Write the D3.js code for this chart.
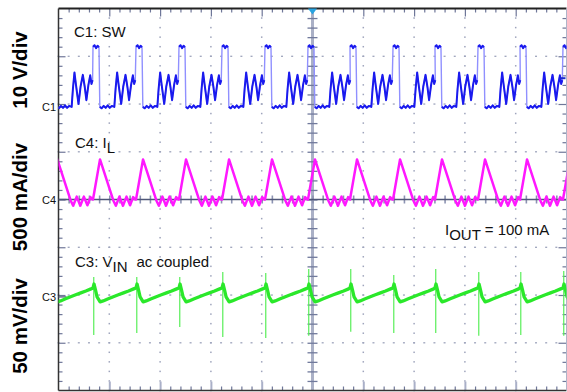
<!DOCTYPE html>
<html><head><meta charset="utf-8">
<script src="https://cdn.jsdelivr.net/npm/d3@7"></script>
<style>
html,body{margin:0;padding:0;background:#fff;}
svg{display:block;}
text{font-family:"Liberation Sans",Arial,sans-serif;}
</style></head>
<body>
<script>
// ---------- data (time in divisions) ----------
// rising edges of the switch node (start of each high-side on time)
const edgeTimes = [-0.161, 0.679, 1.526, 2.372, 3.219, 4.065, 4.911, 5.738, 6.585, 7.411, 8.258, 9.085, 9.931];

// C1: SW (volts), one switching cycle relative to the rising edge
const swT = [0.000, 0.030, 0.060, 0.090, 0.118, 0.134, 0.170, 0.210, 0.250, 0.290, 0.330, 0.370, 0.420, 0.445, 0.475, 0.505, 0.555, 0.595, 0.640, 0.680, 0.710, 0.750, 0.785, 0.810, 0.832];
const swV = [12.6, 12.9, 12.3, 12.8, 12.5, 0.0, -0.3, 0.2, -0.2, 0.3, -0.2, 0.2, 0.0, 3.8, 7.2, 4.6, 0.6, 4.2, 6.7, 4.0, 1.4, 4.6, 6.6, 4.8, 5.6];

// C4: I_L (mA), one cycle
const ilT = [0.000, 0.138, 0.400, 0.450, 0.520, 0.590, 0.660, 0.730, 0.790, 0.830];
const ilV = [0, 420, -10, -65, 30, -65, 30, -60, 25, 0];

// C3: V_IN ac coupled (mV), one cycle
const vinT = [0.000, 0.020, 0.050, 0.080, 0.140, 0.200, 0.300, 0.400, 0.500, 0.600, 0.700, 0.800];
const vinV = [9.4, 13.5, 7.0, 0.0, -5.2, -4.2, -2.0, 0.2, 2.2, 4.2, 6.2, 8.4];
// V_IN spikes at each edge (mV)
const vinSpikeHigh = [22, 20.9, 20.9, 20.9, 26.2, 25.1, 29.3, 29.3, 23.0, 29.3, 26.2, 26.2, 27.2];
const vinSpikeLow  = [-40, -39.8, -37.7, -31.4, -41.9, -42.9, -40.8, -36.6, -37.7, -37.7, -40.8, -39.8, -40.8];
const vinSpikeDt = 0.015;

// channel settings: scale per division and offset (divisions from centre)
const channels = ["C1", "C4", "C3"];
const chScale  = [10, 500, 50];
const chOffset = [1.94, 0, -2.04];
const sideLabels = ["10 V/div", "500 mA/div", "50 mV/div"];

// ---------- layout ----------
const W = 567, H = 392;
const L = 58.5, R = 566.5, T = 8.5, B = 390.5;
const xS = d3.scaleLinear().domain([0, 10]).range([L, R]);
const yS = d3.scaleLinear().domain([-4, 4]).range([B, T]);
const chY = (ci, v) => yS(chOffset[ci] + v / chScale[ci]);

const svg = d3.select("body").append("svg").attr("width", W).attr("height", H);
svg.append("defs").append("clipPath").attr("id", "plot")
  .append("rect").attr("x", L).attr("y", T).attr("width", R - L).attr("height", B - T);

// ---------- grid ----------
const gridCol = "#9ea4bc";
const majorX = d3.range(1, 10).filter(d => d !== 5);
const majorY = d3.range(-3, 4).filter(d => d !== 0);
const minorX = d3.range(0, 50).map(i => i * 0.2);
const minorY = d3.range(0, 40).map(i => -4 + i * 0.2);
const g = svg.append("g");
majorX.forEach(mx => {
  minorY.forEach(my => g.append("rect").attr("x", xS(mx) - 0.75).attr("y", yS(my) - 0.75)
    .attr("width", 1.5).attr("height", 1.5).attr("fill", gridCol));
});
majorY.forEach(my => {
  minorX.forEach(mx => g.append("rect").attr("x", xS(mx) - 1).attr("y", yS(my) - 0.6)
    .attr("width", 2).attr("height", 1.3).attr("fill", gridCol));
});

// frame ticks via d3 axes
const tickCol = "#6f7799";
function styleAxis(sel) {
  sel.select(".domain").remove();
  sel.selectAll("line").attr("stroke", tickCol).attr("stroke-width", 1.2);
  sel.selectAll("text").remove();
}
const minorXt = minorX.filter((d, i) => i % 5 !== 0);
const minorYt = minorY.filter((d, i) => i % 5 !== 0);
svg.append("g").attr("transform", `translate(0,${T})`)
  .call(d3.axisTop(xS).tickValues(minorXt).tickSizeInner(-4).tickSizeOuter(0)).call(styleAxis);
svg.append("g").attr("transform", `translate(0,${T})`)
  .call(d3.axisTop(xS).tickValues(d3.range(1, 10)).tickSizeInner(-8).tickSizeOuter(0)).call(styleAxis);
svg.append("g").attr("transform", `translate(0,${B})`)
  .call(d3.axisBottom(xS).tickValues(minorXt).tickSizeInner(-4).tickSizeOuter(0)).call(styleAxis);
svg.append("g").attr("transform", `translate(0,${B})`)
  .call(d3.axisBottom(xS).tickValues(d3.range(1, 10)).tickSizeInner(-9).tickSizeOuter(0)).call(styleAxis)
  .selectAll("line").attr("stroke", "#aab0c8").attr("stroke-width", 2);
svg.append("g").attr("transform", `translate(${L},0)`)
  .call(d3.axisLeft(yS).tickValues(minorYt).tickSizeInner(-4).tickSizeOuter(0)).call(styleAxis);
svg.append("g").attr("transform", `translate(${L},0)`)
  .call(d3.axisLeft(yS).tickValues(d3.range(-3, 4)).tickSizeInner(-7).tickSizeOuter(0)).call(styleAxis);
svg.append("g").attr("transform", `translate(${R},0)`)
  .call(d3.axisRight(yS).tickValues(minorYt).tickSizeInner(-4).tickSizeOuter(0)).call(styleAxis);
svg.append("g").attr("transform", `translate(${R},0)`)
  .call(d3.axisRight(yS).tickValues(d3.range(-3, 4)).tickSizeInner(-8).tickSizeOuter(0)).call(styleAxis);

// centre axes
svg.append("line").attr("x1", xS(5)).attr("x2", xS(5)).attr("y1", T).attr("y2", B)
  .attr("stroke", "#aab0c6").attr("stroke-width", 3);
svg.append("g").attr("transform", `translate(${xS(5)},0)`)
  .call(d3.axisRight(yS).tickValues(minorY.filter(d => d > -4)).tickSizeInner(5).tickSizeOuter(0)).call(styleAxis)
  .selectAll("line").attr("x1", -5).attr("stroke", "#717a9c").attr("stroke-width", 1.3);
svg.append("g").attr("transform", `translate(0,${yS(0)})`)
  .call(d3.axisBottom(xS).tickValues(minorX.filter(d => d > 0)).tickSizeInner(4).tickSizeOuter(0)).call(styleAxis)
  .selectAll("line").attr("y1", -4).attr("stroke", "#8c93b2").attr("stroke-width", 1.6);
svg.append("line").attr("x1", L).attr("x2", R).attr("y1", yS(0)).attr("y2", yS(0))
  .attr("stroke", "#4f5778").attr("stroke-width", 1.3);

// frame
svg.append("line").attr("x1", L).attr("x2", R).attr("y1", T).attr("y2", T).attr("stroke", "#222").attr("stroke-width", 1.8);
svg.append("line").attr("x1", L).attr("x2", R).attr("y1", B).attr("y2", B).attr("stroke", "#333").attr("stroke-width", 1.5);
svg.append("line").attr("x1", L).attr("x2", L).attr("y1", T).attr("y2", B).attr("stroke", "#333").attr("stroke-width", 1.5);
svg.append("line").attr("x1", R).attr("x2", R).attr("y1", T).attr("y2", B).attr("stroke", "#b0b4c8").attr("stroke-width", 1);

// channel ground markers
channels.forEach((c, i) => {
  svg.append("line").attr("x1", L).attr("x2", L + 8).attr("y1", chY(i, 0)).attr("y2", chY(i, 0))
    .attr("stroke", "#4f5778").attr("stroke-width", 1.3);
  svg.append("text").attr("x", 56).attr("y", chY(i, 0) + 4).attr("text-anchor", "end")
    .attr("font-size", 11).attr("fill", "#111").text(c);
});

// ---------- traces ----------
function build(tT, tV) {
  const pts = [];
  edgeTimes.forEach(e => tT.forEach((t, j) => pts.push([e + t, tV[j]])));
  return pts;
}
const plot = svg.append("g").attr("clip-path", "url(#plot)");

// SW
const swPts = build(swT, swV).map(p => [xS(p[0]), chY(0, p[1])]);
const line = d3.line();
plot.append("path").attr("d", line(swPts)).attr("fill", "none")
  .attr("stroke", "#9090ff").attr("stroke-width", 1.4);
let runs = [], cur = [swPts[0]];
for (let i = 1; i < swPts.length; i++) {
  const dx = swPts[i][0] - swPts[i - 1][0], dy = swPts[i][1] - swPts[i - 1][1];
  const edge = Math.abs(dy) > 20 && Math.abs(dy) > 8 * Math.abs(dx);
  if (edge) { runs.push(cur); cur = [swPts[i]]; } else cur.push(swPts[i]);
}
runs.push(cur);
runs.forEach(r => {
  if (r.length < 2) return;
  plot.append("path").attr("d", line(r)).attr("fill", "none")
    .attr("stroke", "#1a1aee").attr("stroke-width", 2.0).attr("stroke-linejoin", "round");
});

// I_L
const ilPts = build(ilT, ilV).map(p => [xS(p[0]), chY(1, p[1])]);
plot.append("path").attr("d", line(ilPts)).attr("fill", "none")
  .attr("stroke", "#ff18ff").attr("stroke-width", 2.5).attr("stroke-linejoin", "round");

// V_IN
edgeTimes.forEach((e, i) => {
  plot.append("line").attr("x1", xS(e + vinSpikeDt)).attr("x2", xS(e + vinSpikeDt))
    .attr("y1", chY(2, vinSpikeHigh[i])).attr("y2", chY(2, vinSpikeLow[i]))
    .attr("stroke", "#58ee58").attr("stroke-width", 1.2);
});
const vinPts = build(vinT, vinV).map(p => [xS(p[0]), chY(2, p[1])]);
plot.append("path").attr("d", line(vinPts)).attr("fill", "none")
  .attr("stroke", "#2ae82a").attr("stroke-width", 3.3).attr("stroke-linejoin", "round");

// trigger marker
svg.append("path").attr("d", `M${xS(5) - 4.5},${T} L${xS(5) + 4.5},${T} L${xS(5)},${T + 6} Z`).attr("fill", "#29a3e0");
svg.append("path").attr("d", `M${R - 1},${chY(0, 6)} L${R - 7},${chY(0, 6)} `).attr("stroke", "#1a2acc").attr("stroke-width", 2);

// ---------- text ----------
const lblY = [70, 197, 326];
sideLabels.forEach((s, i) => {
  svg.append("text").attr("transform", `translate(27,${lblY[i]}) rotate(-90)`)
    .attr("text-anchor", "middle").attr("font-size", 20.5).attr("font-weight", "bold")
    .attr("fill", "#000").text(s);
});
const fs = 15;
svg.append("text").attr("x", 74).attr("y", 37).attr("font-size", fs).attr("fill", "#111").text("C1: SW");
const t4 = svg.append("text").attr("x", 75).attr("y", 148).attr("font-size", fs).attr("fill", "#111");
t4.append("tspan").text("C4: I");
t4.append("tspan").attr("dy", 5).text("L");
const t3 = svg.append("text").attr("x", 75).attr("y", 267).attr("font-size", fs).attr("fill", "#111");
t3.append("tspan").text("C3: V");
t3.append("tspan").attr("dy", 5).text("IN");
t3.append("tspan").attr("dy", -5).attr("dx", 9).text("ac coupled");
const t1 = svg.append("text").attr("x", 445).attr("y", 235).attr("font-size", fs).attr("fill", "#111");
t1.append("tspan").text("I");
t1.append("tspan").attr("dy", 5).text("OUT");
t1.append("tspan").attr("dy", -5).text(" = 100 mA");
</script>
</body></html>
